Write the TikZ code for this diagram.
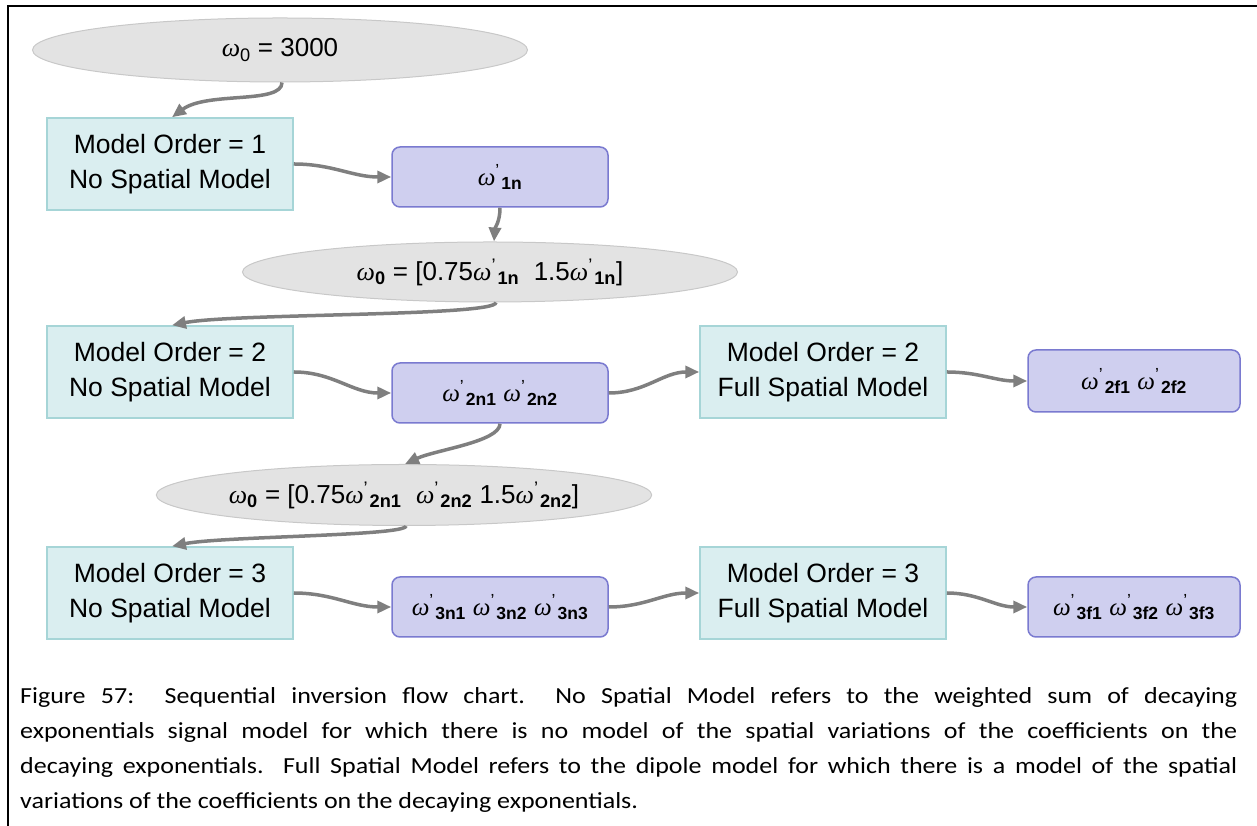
\documentclass[tikz,border=0pt]{standalone}
\usepackage{fontspec}
\usepackage{amsmath}
\setmainfont{Liberation Sans}
\newfontfamily\omf{Liberation Serif}
\newfontfamily\capfont{Carlito}
\usetikzlibrary{arrows.meta,shapes.geometric,calc}
\definecolor{ellf}{HTML}{E3E3E3}
\definecolor{ellb}{HTML}{C8C8C8}
\definecolor{tealf}{HTML}{DAEEF0}
\definecolor{tealb}{HTML}{A6D5D7}
\definecolor{purf}{HTML}{CFCFEF}
\definecolor{purb}{HTML}{7A7AD0}
\definecolor{arrg}{HTML}{7F7F7F}
\newcommand{\W}{{\omf\itshape ω}}
\newcommand{\Wo}[1]{$\text{\W}_{\text{#1}}$}
\newcommand{\Wp}[1]{$\text{\W}^{\text{'}}\kern1.5pt{}_{\text{\bfseries #1}}$}
\tikzset{
  ell/.style={ellipse, draw=ellb, fill=ellf, line width=1pt, inner sep=0pt, font=\fontsize{26}{30}\selectfont},
  tbox/.style={rectangle, draw=tealb, fill=tealf, line width=1.5pt, minimum width=246pt, minimum height=92pt, align=center, font=\fontsize{26.5}{35}\selectfont},
  pbox/.style={rectangle, rounded corners=8pt, draw=purb, fill=purf, line width=1.5pt, minimum width=216pt, minimum height=60pt, font=\fontsize{25}{28}\selectfont},
  conn/.style={draw=arrg, line width=3.5pt, -{Triangle[length=14pt,width=12pt]}},
}
\begin{document}
\begin{tikzpicture}[x=1pt,y=1pt]
\useasboundingbox (0,0) rectangle (1257,826);
\draw[line width=2pt] (8,0) -- (8,820) -- (1257,820);
% nodes
\node[ell, minimum width=495pt, minimum height=64pt] (e1) at (280,776) {\Wo{0} = 3000};
\node[tbox] (b1) at (170,662) {Model Order = 1\\No Spatial Model};
\node[pbox] (p1) at (500,649) {\Wp{1n}};
\node[ell, minimum width=495pt, minimum height=60pt] (e2) at (490,554) {\Wo{\bfseries 0} = [0.75\Wp{1n}\ \ 1.5\Wp{1n}]};
\node[tbox] (b2) at (170,454) {Model Order = 2\\No Spatial Model};
\node[pbox] (p2) at (500,433) {\Wp{2n1}\ \Wp{2n2}};
\node[tbox] (f2) at (823,454) {Model Order = 2\\Full Spatial Model};
\node[pbox, minimum width=212pt, minimum height=62pt] (q2) at (1134,445) {\Wp{2f1}\ \Wp{2f2}};
\node[ell, minimum width=494pt, minimum height=61pt] (e3) at (404,331) {\Wo{\bfseries 0} = [0.75\Wp{2n1}\ \ \Wp{2n2} 1.5\Wp{2n2}]};
\node[tbox] (b3) at (170,233) {Model Order = 3\\No Spatial Model};
\node[pbox] (p3) at (500,219) {\Wp{3n1}\ \Wp{3n2}\ \Wp{3n3}};
\node[tbox] (f3) at (823,233) {Model Order = 3\\Full Spatial Model};
\node[pbox, minimum width=212pt] (q3) at (1134,219) {\Wp{3f1}\ \Wp{3f2}\ \Wp{3f3}};
% connectors
\draw[conn] ([xshift=2pt]e1.south) .. controls +(0,-22) and +(35,26) .. ([xshift=2pt]b1.north);
\draw[conn] (b1.east) to[out=0,in=180] (p1.west);
\draw[conn] (p1.south) .. controls +(0,-14) and +(1,14) .. ([xshift=4pt]e2.north);
\draw[conn] ([xshift=6pt]e2.south) .. controls +(0,-14) and +(60,12) .. ([xshift=2pt]b2.north);
\draw[conn] (b2.east) to[out=0,in=180] (p2.west);
\draw[conn] (p2.east) to[out=0,in=180] (f2.west);
\draw[conn] (f2.east) to[out=0,in=180] (q2.west);
\draw[conn] (p2.south) .. controls +(0,-18) and +(30,14) .. ([xshift=1pt]e3.north);
\draw[conn] ([xshift=2pt]e3.south) .. controls +(0,-10) and +(50,10) .. ([xshift=2pt]b3.north);
\draw[conn] (b3.east) to[out=0,in=180] (p3.west);
\draw[conn] (p3.east) to[out=0,in=180] (f3.west);
\draw[conn] (f3.east) to[out=0,in=180] (q3.west);
% caption
\node[anchor=north west, xscale=1.13, transform shape, text width=1077pt, align=justify, inner sep=0pt, font=\capfont\fontsize{23}{35}\selectfont] (cap) at (20,139) {Figure 57:\ \ Sequential inversion flow chart.\ \ No Spatial Model refers to the weighted sum of decaying\linebreak exponentials signal model for which there is no model of the spatial variations of the coefficients on the\linebreak decaying exponentials.\ \ Full Spatial Model refers to the dipole model for which there is a model of the spatial\linebreak variations of the coefficients on the decaying exponentials.};
\end{tikzpicture}
\end{document}
